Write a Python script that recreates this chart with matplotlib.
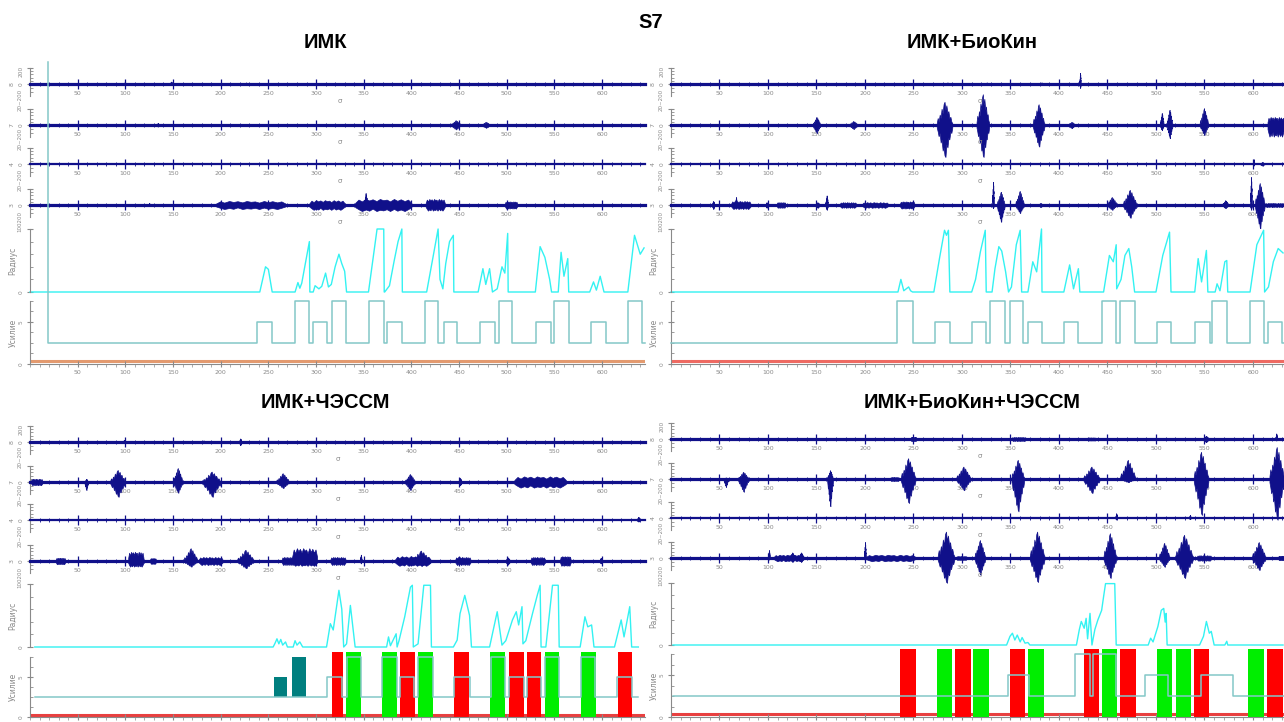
import matplotlib
matplotlib.use('Agg')
import matplotlib.pyplot as plt
from matplotlib.ticker import MultipleLocator, FixedLocator

W, H = 1284, 722
NAVY = '#10108a'
GREY = '#8a8a8a'
CYAN = '#33f2f2'
TEAL = '#84c8c8'

channel_names = ['8', '7', '4', '3']
x_ticks = list(range(50, 601, 50))

# ---- ИМК ----
imk_ch8 = [(98, 101, 25, 10, 's'), (146, 150, 30, 10, 's'), (225, 228, 20, 8, 's')]
imk_ch7 = [(132, 136, 25, 20, 's'), (441, 452, 60, 55, 's'), (473, 483, 40, 35, 's')]
imk_ch4 = []
imk_ch3 = [(124, 126, 25, 15, 's'), (195, 268, 50, 50, 'b'), (293, 330, 60, 60, 'b'),
           (341, 400, 75, 75, 'b'), (350, 354, 150, 40, 's'), (415, 435, 75, 70, 'b'),
           (498, 511, 45, 45, 'b')]
imk_radius = [(0, 0), (241, 0), (247, 40), (250, 36), (254, 0), (278, 0), (281, 15), (283, 6),
              (285, 14), (293, 80), (293.5, 0), (297, 0), (299, 10), (303, 5), (306, 9), (310, 30),
              (313, 8), (316, 12), (320, 40), (324, 60), (327, 45), (330, 33), (332, 0), (355, 0),
              (364, 100), (371, 100), (371.5, 0), (372, 0), (377, 10), (382, 50), (386, 80),
              (390, 100), (390.5, 0), (416, 0), (423, 58), (428, 100), (430, 20), (433, 5),
              (436, 45), (440, 80), (444, 90), (444.5, 0), (470, 0), (475, 37), (478, 12),
              (482, 37), (485, 0), (490, 5), (495, 40), (498, 30), (501, 93), (501.5, 0),
              (530, 0), (535, 72), (540, 55), (545, 20), (547, 0), (554, 0), (557, 63), (560, 25),
              (564, 53), (565, 0), (587, 0), (591, 16), (594, 3), (598, 25), (602, 0), (627, 0),
              (634, 90), (637, 75), (640, 60), (644, 70)]
imk_force_start = (19, 36)
imk_force = [(238, 254, 5), (278, 293, 7.5), (297, 312, 5), (317, 331, 7.5), (356, 371, 7.5),
             (374, 390, 5), (414, 428, 7.5), (434, 448, 5), (472, 488, 5), (492, 506, 7.5),
             (531, 546, 5), (550, 565, 7.5), (588, 604, 5), (627, 642, 7.5)]

# ---- ИМК+БиоКин ----
bio_ch8 = [(283, 287, 20, 15, 's'), (324, 327, 20, 15, 's'), (380, 384, 20, 12, 's'),
           (421, 422.5, 140, 50, 's')]
bio_ch7 = [(146, 154, 100, 100, 's'), (183, 193, 50, 50, 's'), (274, 290, 290, 400, 's'),
           (315, 328, 385, 400, 's'), (373, 385, 260, 270, 's'), (409, 417, 40, 40, 's'),
           (504, 508, 150, 65, 's'), (511, 517, 190, 165, 's'), (545, 554, 210, 125, 's'),
           (615, 632, 100, 145, 'b')]
bio_ch4 = [(600, 601.5, 60, 20, 's'), (607, 612, 25, 20, 's')]
bio_ch3 = [(42, 45, 50, 50, 's'), (62, 82, 50, 50, 'b'), (66, 68, 100, 30, 's'),
           (97, 100, 35, 35, 's'), (109, 118, 35, 35, 'b'), (148, 154, 35, 35, 's'),
           (159, 162, 120, 60, 's'), (174, 191, 35, 35, 'b'), (197, 224, 35, 35, 'b'),
           (236, 251, 45, 45, 'b'), (331, 333, 290, 40, 's'), (336, 344, 165, 210, 's'),
           (355, 364, 175, 100, 's'), (378, 384, 25, 25, 's'), (449, 460, 100, 60, 's'),
           (466, 480, 190, 160, 's'), (568, 575, 60, 40, 's'), (597, 599, 350, 60, 's'),
           (602, 612, 275, 290, 's'), (612, 632, 25, 25, 'b')]
bio_radius = [(0, 0), (234, 0), (237, 20), (240, 2), (245, 8), (247, 2), (249, 0), (271, 0),
              (277, 55), (282, 98), (284, 90), (286, 98), (287.5, 0), (310, 0), (314, 20),
              (319, 64), (324, 98), (325, 0), (331, 0), (334, 37), (338, 72), (341, 65),
              (345, 32), (348, 0), (351, 8), (356, 75), (360, 98), (361.5, 0), (368, 0),
              (373, 48), (377, 32), (382, 100), (382.5, 0), (405, 0), (411, 43), (415, 5),
              (420, 37), (421.5, 0), (446, 0), (452, 58), (456, 48), (459, 75), (459.5, 5),
              (464, 20), (468, 58), (472, 69), (475, 40), (478, 0), (500, 0), (507, 58),
              (514, 95), (515.5, 0), (540, 0), (543.5, 53), (547, 16), (552, 66), (553.5, 0),
              (561, 0), (563, 13), (566, 2), (571, 48), (573, 50), (574, 0), (597, 0),
              (604, 75), (611, 98), (612, 0), (616, 8), (621, 48), (626, 69), (631, 62)]
bio_force = [(233, 249, 7.5), (272, 288, 5), (310, 325, 5), (329, 344, 7.5), (349, 363, 7.5),
             (368, 383, 5), (405, 420, 5), (444, 459, 7.5), (463, 478, 7.5), (501, 516, 5),
             (540, 556, 5), (558, 573, 7.5), (597, 611, 7.5), (616, 630, 5)]

# ---- ИМК+ЧЭССМ ----
ch_ch8 = [(97, 100, 25, 10, 's'), (180, 184, 20, 10, 's'), (219, 222, 45, 40, 's')]
ch_ch7 = [(1, 13, 40, 40, 'b'), (57, 61, 40, 100, 's'), (84, 100, 150, 185, 's'),
          (150, 160, 175, 135, 's'), (181, 200, 130, 185, 's'), (258, 272, 110, 75, 's'),
          (393, 404, 100, 100, 's'), (449, 453, 50, 40, 's'), (508, 562, 70, 70, 'b')]
ch_ch4 = [(636, 640, 40, 20, 's')]
ch_ch3 = [(27, 37, 40, 40, 'b'), (103, 119, 115, 70, 'b'), (126, 132, 35, 35, 'b'),
          (161, 176, 160, 70, 's'), (177, 202, 50, 50, 'b'), (217, 235, 140, 90, 's'),
          (264, 277, 50, 50, 'b'), (275, 301, 160, 60, 'b'), (315, 331, 50, 50, 'b'),
          (346, 348, 80, 30, 's'), (383, 420, 60, 60, 'b'), (400, 420, 130, 60, 's'),
          (446, 462, 50, 50, 'b'), (498, 504, 45, 45, 's'), (525, 540, 50, 50, 'b'),
          (556, 567, 60, 60, 'b'), (597, 600, 40, 30, 's')]
ch_radius = [(5, 0), (255, 0), (257, 6), (259, 13), (261, 5), (263, 12), (265, 3), (268, 8),
             (270, 0), (276, 0), (278, 10), (280, 3), (283, 8), (286, 0), (311, 0), (315, 37),
             (318, 27), (324, 90), (327, 60), (329, 0), (332, 5), (336, 66), (341, 0), (374, 0),
             (376, 16), (378, 2), (384, 21), (385, 0), (387, 10), (393, 48), (399, 95),
             (401, 98), (402, 0), (407, 5), (413, 98), (420, 98), (421, 0), (444, 0), (448, 11),
             (451, 53), (456, 82), (461, 50), (463, 0), (482, 0), (490, 56), (495, 3), (499, 10),
             (506, 43), (510, 56), (512.5, 35), (516, 64), (517, 5), (520, 10), (527, 53),
             (532, 82), (535, 98), (536, 0), (541, 0), (548, 98), (554, 98), (555, 0), (577, 0),
             (582, 48), (585, 32), (589, 35), (591.5, 0), (613, 0), (620, 43), (623, 16),
             (629, 64), (631, 0), (638, 0)]
ch_force = [(311, 327, 5), (332, 347, 7.5), (369, 385, 7.5), (388, 403, 5), (407, 423, 7.5),
            (445, 461, 5), (483, 498, 7.5), (502, 518, 5), (521, 536, 5), (540, 555, 7.5),
            (578, 593, 7.5), (616, 631, 5)]
ch_teal = [(255.6, 270, 5), (274.5, 289, 7.5)]
ch_red = [(316.7, 328), (388.4, 403.4), (445, 460.7), (501.9, 517.6), (521.2, 536.2),
          (616.2, 631.2)]
ch_green = [(331.4, 347.2), (369.2, 384.9), (406.9, 422.6), (482.7, 498.4), (539.6, 555.3),
            (577.8, 593.5)]

# ---- ИМК+БиоКин+ЧЭССМ ----
all_ch8 = [(247, 253, 25, 25, 'b'), (351, 366, 25, 25, 'b'), (429, 438, 20, 20, 'b'),
           (548, 555, 40, 40, 's'), (623, 625, 70, 20, 's')]
all_ch7 = [(54, 59, 20, 100, 's'), (69, 80, 90, 160, 's'), (161, 167, 110, 340, 's'),
           (226, 235, 25, 25, 'b'), (237, 252, 260, 300, 's'), (294, 309, 155, 140, 's'),
           (351, 364, 240, 405, 's'), (425, 442, 155, 175, 's'), (463, 479, 240, 40, 's'),
           (539, 554, 340, 450, 's'), (617, 632, 400, 510, 's')]
all_ch4 = [(458, 460, 60, 20, 's'), (534, 536, 40, 15, 's')]
all_ch3 = [(100, 102, 100, 20, 's'), (106, 137, 40, 40, 'b'), (122, 128, 70, 50, 's'),
           (131, 137, 70, 50, 's'), (199, 201, 200, 30, 's'), (201, 252, 40, 40, 'b'),
           (275, 292, 330, 310, 's'), (294, 305, 25, 25, 'b'), (313, 324, 225, 210, 's'),
           (370, 385, 330, 300, 's'), (446, 459, 310, 250, 's'), (503, 514, 190, 110, 's'),
           (520, 538, 290, 250, 's'), (542, 557, 35, 35, 'b'), (599, 613, 200, 150, 's'),
           (626, 632, 25, 25, 'b')]
all_radius = [(2, 0), (346, 0), (349.5, 14), (352, 19), (354.5, 8), (357, 16), (360, 5),
              (362, 12), (365, 3), (368, 4), (370, 0), (418, 0), (421, 25), (423, 38), (426, 27),
              (428, 43), (429.5, 10), (432, 51), (434, 0), (437, 25), (440, 40), (444, 56),
              (446, 78), (448, 99), (457.5, 99), (459, 0), (492, 0), (494.5, 11), (497, 5),
              (502, 30), (505.5, 56), (508, 59), (509.5, 37), (510.5, 51), (511.5, 0), (545, 0),
              (549, 14), (552, 38), (555, 19), (557, 22), (560, 0), (571, 0), (573, 6),
              (574, 0), (631, 0)]
all_force = [(347, 369, 5), (417, 432, 7.5), (435, 459, 7.5), (489, 512, 5), (546, 579, 5)]
all_red = [(236, 252.3), (292.8, 309), (349.5, 365), (425.8, 441), (462.9, 479), (539.5, 555),
           (614.7, 631.2)]
all_green = [(274, 289.4), (311.7, 327.8), (368.4, 384.5), (444, 460), (501.4, 516.8),
             (520.3, 535.8), (595, 611.3)]

# outline templates for a burst (jagged, like raw EMG)
SPINDLE_X = [0, .06, .12, .19, .25, .31, .38, .44, .5, .56, .62, .69, .75, .81, .88, .94, 1]
SPINDLE_UP = [.08, .3, .15, .45, .3, .7, .5, .9, 1, .65, .85, .5, .6, .3, .35, .15, .08]
SPINDLE_DN = [.08, .2, .35, .25, .55, .45, .8, .7, .95, 1, .6, .7, .4, .45, .2, .25, .08]
BLOCK_UP = [.35, .9, .6, 1, .75, .95, .65, 1, .8, .9, .6, 1, .7, .95, .65, .9, .35]
BLOCK_DN = [.35, .7, 1, .75, .95, .6, 1, .8, .9, .7, 1, .65, .95, .75, 1, .7, .35]

fig = plt.figure(figsize=(W / 100, H / 100), dpi=100)


def px_axes(x0, x1, ytop, ybot):
    ax = fig.add_axes([x0 / W, 1 - ybot / H, (x1 - x0) / W, (ybot - ytop) / H])
    ax.patch.set_alpha(0)
    for side in ('top', 'right'):
        ax.spines[side].set_visible(False)
    return ax


def ftext(x, y, s, **kw):
    kw.setdefault('ha', 'center')
    kw.setdefault('va', 'center')
    fig.text(x / W, 1 - y / H, s, **kw)


def draw_bursts(ax, bursts):
    for s, e, up, down, kind in bursts:
        wu, wd = (SPINDLE_UP, SPINDLE_DN) if kind == 's' else (BLOCK_UP, BLOCK_DN)
        xs = [s + f * (e - s) for f in SPINDLE_X]
        ax.fill_between(xs, [up * k for k in wu], [-down * k for k in wd], color=NAVY,
                        lw=0.5, clip_on=False, zorder=3)


def emg_axes(x0, x1, xmax, zero, bursts, lw, top_label):
    ax = px_axes(x0, x1, zero - 20, zero + 20)
    ax.set_xlim(0, xmax)
    ax.set_ylim(-250, 250)
    ax.spines['bottom'].set_position(('data', 0))
    ax.spines['bottom'].set_color(NAVY)
    ax.spines['bottom'].set_linewidth(lw)
    ax.spines['left'].set_color(GREY)
    ax.spines['left'].set_linewidth(0.8)
    ax.spines['left'].set_bounds(-150, 200)
    ax.xaxis.set_major_locator(FixedLocator(x_ticks))
    ax.xaxis.set_minor_locator(MultipleLocator(10))
    ax.tick_params(axis='x', which='major', direction='inout', length=7, width=0.9,
                   color=NAVY, labelsize=4.5, labelcolor=GREY, pad=1.5)
    ax.tick_params(axis='x', which='minor', direction='inout', length=2.5, width=0.6, color=NAVY)
    ax.set_yticks([0, 200])
    ax.set_yticklabels(['0', top_label])
    ax.yaxis.set_minor_locator(FixedLocator([-100, -50, 40, 80, 120, 160]))
    ax.tick_params(axis='y', which='major', direction='inout', length=5, width=0.8,
                   color=GREY, labelsize=4.2, labelcolor=GREY, labelrotation=90, pad=2)
    ax.tick_params(axis='y', which='minor', direction='in', length=2, width=0.6, color=GREY)
    draw_bursts(ax, bursts)
    return ax


def draw_panel(lay, channels, radius, force, force_start, red_line,
               red=(), green=(), teal=()):
    x0, x1, xmax = lay['x0'], lay['x1'], lay['xmax']
    ftext(lay['title'][0], lay['title'][1], lay['name'], fontsize=14.5, fontweight='bold',
          family='Liberation Sans')
    for i, (zero, bursts) in enumerate(zip(lay['emg'], channels)):
        emg_axes(x0, x1, xmax, zero, bursts, 1.6 if i == 2 else 2.3, '200' if i == 0 else '')
        ftext(x0 - 18, zero, channel_names[i], fontsize=4.5, color=GREY, rotation=90)
        if i > 0:
            ftext(x0 - 10, zero - 25, '20~200', fontsize=4, color=GREY, rotation=90)
        ftext(lay['sigma'], zero + 17, 'σ', fontsize=5, color=GREY)

    rt, rb = lay['rad']
    ftext(x0 - 10, rt - 7, '100200', fontsize=4, color=GREY, rotation=90)
    ax = px_axes(x0, x1, rt, rb)
    ax.set_xlim(0, xmax)
    ax.set_ylim(0, 100)
    ax.spines['bottom'].set_visible(False)
    ax.spines['left'].set_color(GREY)
    ax.spines['left'].set_linewidth(0.8)
    ax.set_xticks([])
    ax.set_yticks([0, 100])
    ax.set_yticklabels(['0', ''])
    ax.yaxis.set_minor_locator(FixedLocator([20, 40, 60, 80]))
    ax.tick_params(axis='y', which='major', direction='inout', length=5, width=0.8,
                   color=GREY, labelsize=4.2, labelcolor=GREY, labelrotation=90, pad=2)
    ax.tick_params(axis='y', which='minor', direction='in', length=2, width=0.6, color=GREY)
    ax.plot([t for t, v in radius], [v for t, v in radius], color=CYAN, lw=1.0, clip_on=False)
    ftext(x0 - 17, (rt + rb) / 2, 'Радиус', fontsize=5.5, color=GREY, rotation=90)

    ft, fb = lay['force']
    ax = px_axes(x0, x1, ft, fb)
    ax.set_xlim(0, xmax)
    ax.set_ylim(0, 7.5)
    for side in ('left', 'bottom'):
        ax.spines[side].set_color(GREY)
        ax.spines[side].set_linewidth(0.8)
    ax.xaxis.set_major_locator(FixedLocator(x_ticks))
    ax.xaxis.set_minor_locator(MultipleLocator(10))
    ax.tick_params(axis='x', which='major', direction='inout', length=5, width=0.8,
                   color=GREY, labelsize=4.5, labelcolor=GREY, pad=1.5,
                   labelbottom=lay['xlabels'])
    ax.tick_params(axis='x', which='minor', direction='out', length=2, width=0.5, color=GREY)
    ax.set_yticks([0, 5])
    ax.yaxis.set_minor_locator(MultipleLocator(1.25))
    ax.tick_params(axis='y', which='major', direction='inout', length=5, width=0.8,
                   color=GREY, labelsize=4.2, labelcolor=GREY, labelrotation=90, pad=2)
    ax.tick_params(axis='y', which='minor', direction='in', length=2, width=0.6, color=GREY)
    ax.axhline(0.3, color=red_line, lw=2.2, zorder=1)
    for s, e in red:
        ax.bar(s, 8.1, width=e - s, align='edge', color='#ff0000', clip_on=False, zorder=2)
    for s, e in green:
        ax.bar(s, 8.1, width=e - s, align='edge', color='#00ee00', clip_on=False, zorder=2)
    for s, e, lvl in teal:
        ax.bar(s, lvl - 2.5, width=e - s, bottom=2.5, align='edge', color='#007f7f',
               clip_on=False, zorder=2)
    base = 2.5
    xs, ys = [force_start[0]], [force_start[1]]
    if force_start[1] != base:
        xs.append(force_start[0])
        ys.append(base)
    for s, e, lvl in force:
        xs += [s, s, e, e]
        ys += [base, lvl, lvl, base]
    xs.append(lay['end'])
    ys.append(base)
    ax.plot(xs, ys, color=TEAL, lw=1.1, clip_on=False, zorder=3)
    ftext(x0 - 17, (ft + fb) / 2, 'Усилие', fontsize=5.5, color=GREY, rotation=90)


LAYOUT = [
    dict(name='ИМК', title=(325, 42), x0=30, x1=645, xmax=645, end=645, sigma=340,
         emg=[84, 125, 164, 205], rad=(229, 292), force=(301, 364), xlabels=True),
    dict(name='ИМК+БиоКин', title=(972, 42), x0=671, x1=1284, xmax=632, end=632, sigma=980,
         emg=[84, 125, 164, 205], rad=(229, 292), force=(301, 364), xlabels=True),
    dict(name='ИМК+ЧЭССМ', title=(325, 403), x0=30, x1=645, xmax=645, end=638, sigma=338,
         emg=[442, 482, 520, 561], rad=(584, 647), force=(657, 717), xlabels=False),
    dict(name='ИМК+БиоКин+ЧЭССМ', title=(972, 403), x0=671, x1=1284, xmax=632, end=632,
         sigma=980, emg=[439, 479, 518, 558], rad=(583, 645), force=(654, 717), xlabels=False),
]

ftext(651, 22, 'S7', fontsize=14.5, fontweight='bold', family='Liberation Sans')

draw_panel(LAYOUT[0], [imk_ch8, imk_ch7, imk_ch4, imk_ch3], imk_radius, imk_force,
           imk_force_start, '#e39a6f')
draw_panel(LAYOUT[1], [bio_ch8, bio_ch7, bio_ch4, bio_ch3], bio_radius, bio_force,
           (0, 2.5), '#ee6a62')
draw_panel(LAYOUT[2], [ch_ch8, ch_ch7, ch_ch4, ch_ch3], ch_radius, ch_force,
           (5, 2.5), '#e84040', red=ch_red, green=ch_green, teal=ch_teal)
draw_panel(LAYOUT[3], [all_ch8, all_ch7, all_ch4, all_ch3], all_radius, all_force,
           (2, 2.5), '#e84040', red=all_red, green=all_green)

fig.savefig('out.png', dpi=100, facecolor='white')
